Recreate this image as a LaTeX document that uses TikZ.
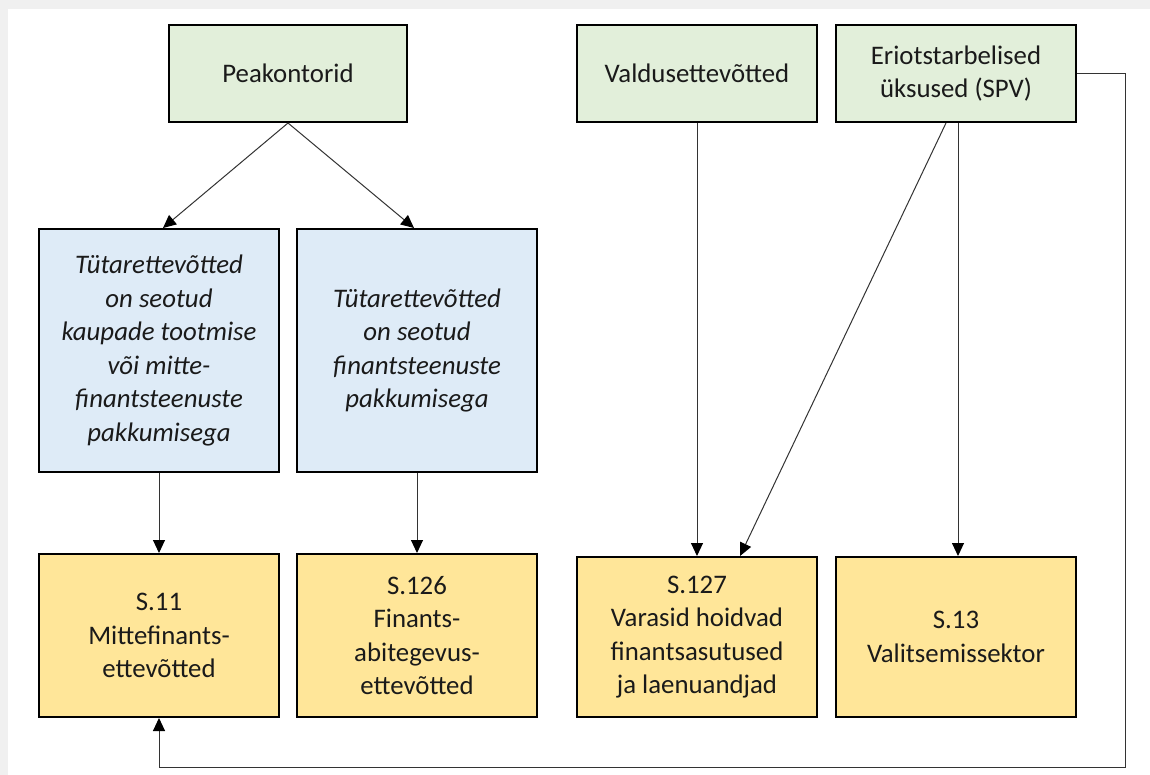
\documentclass[tikz,border=0pt]{standalone}
\usepackage{fontspec}
\setmainfont{Carlito}
\usetikzlibrary{arrows.meta,calc}
\definecolor{bggray}{HTML}{F0F0F0}
\definecolor{gfill}{HTML}{E2EFDA}
\definecolor{bfill}{HTML}{DEEBF7}
\definecolor{yfill}{HTML}{FFE699}
\definecolor{linec}{HTML}{333333}
\definecolor{txtc}{HTML}{1A1A1A}
\tikzset{
  box/.style={draw=black, line width=2pt, rectangle, minimum width=240pt, align=center,
    text=txtc, font=\fontsize{26.8}{33.5}\selectfont, inner sep=0pt},
  gbox/.style={box, fill=gfill, minimum height=97pt},
  bbox/.style={box, fill=bfill, minimum height=243pt, font=\fontsize{26.8}{33.5}\selectfont\itshape},
  ybox/.style={box, fill=yfill, minimum height=163pt},
  conn/.style={draw=linec, line width=1pt, -{Triangle[length=13pt,width=12pt,fill=black,color=black]}}
}
\begin{document}
\begin{tikzpicture}[x=1pt,y=-1pt]
\useasboundingbox (0,0) rectangle (1150,775);
\fill[bggray] (0,0) rectangle (1150,775);
\fill[white] (8,9) rectangle (1150,775);

\node[gbox, minimum width=238pt] (pk) at (288,73.5) {Peakontorid};
\node[gbox] (vd) at (697,73.5) {Valdusettevõtted};
\node[gbox] (eo) at (956,73.5) {Eriotstarbelised\\üksused (SPV)};

\node[bbox] (b1) at (159,350.5) {Tütarettevõtted\\on seotud\\kaupade tootmise\\või mitte-\\finantsteenuste\\pakkumisega};
\node[bbox] (b2) at (417,350.5) {Tütarettevõtted\\on seotud\\finantsteenuste\\pakkumisega};

\node[ybox] (s11) at (159,635.5) {S.11\\Mittefinants-\\ettevõtted};
\node[ybox] (s126) at (417,635.5) {S.126\\Finants-\\abitegevus-\\ettevõtted};
\node[ybox, minimum height=160pt] (s127) at (697,637) {S.127\\Varasid hoidvad\\finantsasutused\\ja laenuandjad};
\node[ybox, minimum height=160pt] (s13) at (956,637) {S.13\\Valitsemissektor};

\coordinate (c1) at (1125,767);

\draw[conn] (pk.south) -- ([xshift=4pt]b1.north);
\draw[conn] (pk.south) -- ([xshift=-3pt]b2.north);
\draw[conn] (b1.south) -- (s11.north);
\draw[conn] (b2.south) -- (s126.north);
\draw[conn] (vd.south) -- (s127.north);
\draw[conn] ([xshift=-10pt]eo.south) -- ([xshift=43pt]s127.north);
\draw[conn] ([xshift=2pt]eo.south) -- ([xshift=2pt]s13.north);
\draw[conn] (eo.east) -| (c1) -| (s11.south);
\end{tikzpicture}
\end{document}
